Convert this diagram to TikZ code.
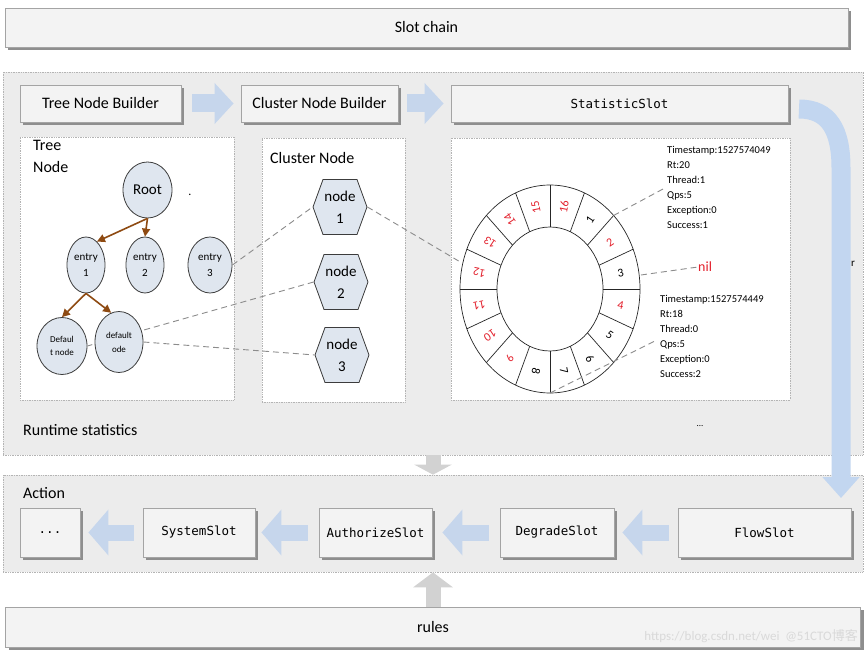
\documentclass[tikz,border=0pt]{standalone}
\usepackage{fontspec}
\setmainfont{Carlito}
\newfontfamily\monofont{DejaVu Sans Mono}
\newfontfamily\cjkfont{Noto Sans CJK SC}
\usetikzlibrary{shapes.geometric,shapes.symbols,arrows.meta,shadows,calc}
\definecolor{regionfill}{HTML}{ECECEC}
\definecolor{regionline}{HTML}{B4B4B4}
\definecolor{boxfill}{HTML}{F3F3F3}
\definecolor{boxline}{HTML}{A4A4A4}
\definecolor{shadowgray}{HTML}{8E8E8E}
\definecolor{nodefill}{HTML}{DFE6EF}
\definecolor{nodeline}{HTML}{3C3C3C}
\definecolor{treebrown}{HTML}{8E4A12}
\definecolor{dashgray}{HTML}{8C8C8C}
\definecolor{arrowblue}{HTML}{C6D6EC}
\definecolor{curveblue}{HTML}{C2D6F0}
\definecolor{arrowgray}{HTML}{D2D2D2}
\definecolor{numred}{HTML}{E3202C}
\definecolor{wmark}{HTML}{D9D9D9}
\begin{document}
\begin{tikzpicture}[x=1pt,y=-1pt,
  regionbox/.style={draw=regionline,densely dotted,fill=regionfill,line width=0.7pt,minimum width=#1},
  panelbox/.style={draw=regionline,densely dotted,fill=white,line width=0.7pt},
  slotbox/.style={draw=boxline,fill=boxfill,line width=0.9pt,inner sep=0pt,
    drop shadow={shadow xshift=3pt,shadow yshift=-3pt,fill=shadowgray,opacity=1},
    font=\fontsize{16}{18}\selectfont},
  monobox/.style={slotbox,font=\monofont\fontsize{12.5}{14}\selectfont},
  tnode/.style={ellipse,draw=nodeline,fill=nodefill,line width=0.8pt,inner sep=0pt,align=center},
  hexnode/.style={signal,signal to=east and west,signal pointer angle=140,draw=nodeline,fill=nodefill,
    line width=0.8pt,inner sep=0pt,minimum width=54pt,minimum height=55pt,align=center,
    font=\fontsize{15}{22}\selectfont},
  treearrow/.style={draw=treebrown,line width=1.6pt,-{Triangle[length=8pt,width=8pt]}},
  dashlink/.style={draw=dashgray,line width=0.9pt,dash pattern=on 6pt off 4pt},
  bluearrow/.style={draw=arrowblue,line width=18pt,-{Triangle[length=19pt,width=40pt]}},
  leftarrow/.style={draw=arrowblue,line width=16pt,-{Triangle[length=20pt,width=45pt]}},
  grayarrow/.style={draw=arrowgray,line width=15pt},
  ringline/.style={draw=black!85,line width=0.7pt},
  lbl/.style={inner sep=0pt,anchor=west,font=\fontsize{16}{18}\selectfont},
  stat/.style={inner sep=0pt,anchor=north west,align=left,font=\fontsize{10.5}{15}\selectfont}
]
\useasboundingbox (0,0) rectangle (868,655);
\fill[white] (0,0) rectangle (868,655);

% Slot chain
\node[slotbox,minimum width=843pt,minimum height=39pt] (chain) at (426.5,27.5) {Slot chain};

% regions
\node[regionbox=860pt,minimum height=383pt] (rt) at (433,263.5) {};
\node[regionbox=860pt,minimum height=97pt] (act) at (433,523.5) {};

% top row
\node[slotbox,minimum width=161pt,minimum height=37pt] (tnb) at (100.5,103.5) {Tree Node Builder};
\node[slotbox,minimum width=157pt,minimum height=37pt] (cnb) at (319.5,103.5) {Cluster Node Builder};
\node[monobox,minimum width=337pt,minimum height=37pt] (ss) at (619.5,103.5) {StatisticSlot};
\draw[bluearrow,shorten <=11pt,shorten >=7pt] (tnb.east) -- (cnb.west);
\draw[bluearrow,shorten <=9pt,shorten >=7pt] (cnb.east) -- (ss.west);

% panels
\node[panelbox,minimum width=214pt,minimum height=263pt] (tp) at (127,268.5) {};
\node[panelbox,minimum width=143pt,minimum height=264pt] (cp) at (333.5,270) {};
\node[panelbox,minimum width=339pt,minimum height=262pt] (sp) at (620.5,269) {};

\node[lbl] (treelbl) at (33,145) {Tree};
\node[lbl] (treelbl2) at (33,167) {Node};
\node[lbl] (clulbl) at (270,158) {Cluster Node};
\node[inner sep=0pt,font=\fontsize{12}{12}\selectfont] (dot) at (190,195) {.};

% tree nodes
\node[tnode,minimum width=49pt,minimum height=56pt,font=\fontsize{15}{17}\selectfont] (root) at (147.5,190) {Root};
\node[tnode,minimum width=38pt,minimum height=56pt,font=\fontsize{11}{16}\selectfont] (e1) at (86,265) {entry\\1};
\node[tnode,minimum width=38pt,minimum height=56pt,font=\fontsize{11}{16}\selectfont] (e2) at (145,265) {entry\\2};
\node[tnode,minimum width=44pt,minimum height=56pt,font=\fontsize{11}{16}\selectfont] (e3) at (210,265) {entry\\3};

% hexagons
\node[hexnode] (n1) at (340,207) {node\\1};
\node[hexnode] (n2) at (341,282) {node\\2};
\node[hexnode] (n3) at (342,355) {node\\3};

\node[tnode,minimum width=50pt,minimum height=57pt,font=\fontsize{9}{13}\selectfont] (d1) at (62,346) {Defaul\\t node};
\draw[dashlink] (n2.west) -- (d1.east);
\node[tnode,minimum width=48pt,minimum height=61pt,font=\fontsize{9}{14}\selectfont] (d2) at (119,342) {default\\ode};

\draw[treearrow] (root.south) -- (e1.65);
\draw[treearrow] (root.south) -- (e2.north);
\draw[treearrow] (e1.south) -- (d1.north);
\draw[treearrow] (e1.south) -- (d2.105);

\draw[dashlink] (e3.east) -- (n1.west);
\draw[dashlink] (d2.east) -- (n3.west);

% ring
\draw[ringline] (550,289) ellipse [x radius=90pt,y radius=104pt];
\draw[ringline] (550,289) ellipse [x radius=53pt,y radius=62pt];
\foreach \a in {0,22.5,...,337.5}
  \draw[ringline] ({550+53*cos(\a)},{289-62*sin(\a)}) -- ({550+90*cos(\a)},{289-104*sin(\a)});
\foreach \n/\c in {1/black,2/numred,3/black,4/numred,5/black,6/black,7/black,8/black,
                   9/numred,10/numred,11/numred,12/numred,13/numred,14/numred,15/numred,16/numred}{
  \pgfmathsetmacro{\t}{56.25-(\n-1)*22.5}
  \node[inner sep=0pt,text=\c,rotate=\t,font=\fontsize{12}{12}\selectfont] (seg\n) at ({550+72*cos(\t)},{289-83.5*sin(\t)}) {\n};
}
\coordinate (r12) at (462,263);
\coordinate (r1) at (613.6,215.5);
\coordinate (r3) at (641,275);
\coordinate (r8) at (550,393);
\draw[dashlink] (n1.east) -- (r12);

\node[stat] (st1) at (667,146) {Timestamp:1527574049\\Rt:20\\Thread:1\\Qps:5\\Exception:0\\Success:1};
\node[stat] (st2) at (660,295) {Timestamp:1527574449\\Rt:18\\Thread:0\\Qps:5\\Exception:0\\Success:2};
\node[inner sep=0pt,anchor=west,text=numred,font=\fontsize{14}{14}\selectfont] (nil) at (698,267) {nil};
\coordinate (st1end) at (663,189);
\coordinate (st2end) at (657,340);
\draw[dashlink] (r1) -- (st1end);
\draw[dashlink] (r3) -- (nil.west);
\draw[dashlink] (r8) -- (st2end);

\node[inner sep=0pt,font=\fontsize{9}{9}\selectfont] (ell) at (700,426) {...};
\node[inner sep=0pt,font=\fontsize{11}{11}\selectfont] (rr) at (853,264) {r};
\node[lbl] (rtlbl) at (23,430) {Runtime statistics};

% curved arrow
\coordinate (cs) at (799,109);
\coordinate (ce) at (841,498);
\draw[draw=curveblue,line width=19pt,-{Triangle[length=21pt,width=36pt]}] (cs) .. controls (829,109) and (841,130) .. (841,168) -- (ce);

% action row
\node[lbl] (actlbl) at (23,493) {Action};
\node[monobox,minimum width=60pt,minimum height=49pt] (dots) at (50,532.5) {...};
\node[monobox,minimum width=112pt,minimum height=49pt] (sys) at (199,532.5) {SystemSlot};
\node[monobox,minimum width=113pt,minimum height=49pt] (auth) at (375.5,532.5) {AuthorizeSlot};
\node[monobox,minimum width=114pt,minimum height=49pt] (deg) at (557,532.5) {DegradeSlot};
\node[monobox,minimum width=173pt,minimum height=49pt] (flow) at (764.5,532.5) {FlowSlot};
\draw[leftarrow,shorten <=9pt,shorten >=8pt] (flow.west) -- (deg.east);
\draw[leftarrow,shorten <=11pt,shorten >=10pt] (deg.west) -- (auth.east);
\draw[leftarrow,shorten <=11pt,shorten >=6pt] (auth.west) -- (sys.east);
\draw[leftarrow,shorten <=9pt,shorten >=8pt] (sys.west) -- (dots.east);

% rules
\node[slotbox,minimum width=855pt,minimum height=40pt] (rules) at (433,627) {rules};
\draw[grayarrow,-{Triangle[length=10pt,width=37pt]}] (rt.south) -- (act.north);
\draw[grayarrow,-{Triangle[length=15pt,width=39pt]}] (rules.north) -- (act.south);

% watermark
\node[inner sep=0pt,anchor=east,text=wmark,font=\fontsize{13}{13}\selectfont] (wm) at (858,636) {https://blog.csdn.net/wei\ \ @51CTO{\cjkfont 博客}};
\end{tikzpicture}
\end{document}
